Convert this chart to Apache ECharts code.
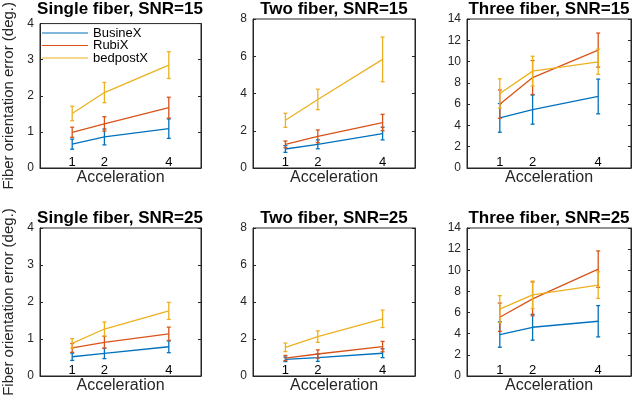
<!DOCTYPE html>
<html>
<head>
<meta charset="utf-8">
<script src="https://cdn.jsdelivr.net/npm/echarts@6/dist/echarts.min.js"></script>
<style>
html,body{margin:0;padding:0;background:#fff;}
#chart{width:642px;height:402px;}
</style>
</head>
<body>
<div id="chart"></div>
<script>
// ---- data ----
const acceleration = [1, 2, 4];
const accelTicks = [1, 2, 4];
const methods = ['BusineX', 'RubiX', 'bedpostX'];
const panelTitles = ['Single fiber, SNR=15', 'Two fiber, SNR=15', 'Three fiber, SNR=15',
                     'Single fiber, SNR=25', 'Two fiber, SNR=25', 'Three fiber, SNR=25'];
const yMaxes = [4, 8, 14, 4, 8, 14];
const yIntervals = [1, 2, 2, 1, 2, 2];

// means / errors, rows = [BusineX, RubiX, bedpostX], columns = acceleration 1, 2, 4
const single15Mean = [[0.66, 0.86, 1.09], [0.99, 1.22, 1.67], [1.51, 2.09, 2.85]];
const single15Err  = [[0.14, 0.22, 0.27], [0.14, 0.20, 0.29], [0.20, 0.28, 0.37]];
const two15Mean    = [[1.02, 1.27, 1.85], [1.27, 1.70, 2.44], [2.56, 3.68, 5.83]];
const two15Err     = [[0.18, 0.24, 0.34], [0.18, 0.34, 0.44], [0.38, 0.55, 1.20]];
const three15Mean  = [[4.71, 5.49, 6.72], [6.00, 8.50, 11.08], [7.00, 9.10, 9.98]];
const three15Err   = [[1.35, 1.37, 1.63], [1.33, 1.60, 1.60], [1.38, 1.40, 1.18]];
const single25Mean = [[0.52, 0.61, 0.79], [0.76, 0.91, 1.14], [0.88, 1.27, 1.76]];
const single25Err  = [[0.10, 0.14, 0.16], [0.12, 0.16, 0.18], [0.13, 0.19, 0.23]];
const two25Mean    = [[0.90, 0.99, 1.23], [0.97, 1.19, 1.59], [1.55, 2.13, 3.09]];
const two25Err     = [[0.12, 0.20, 0.24], [0.14, 0.22, 0.28], [0.23, 0.31, 0.47]];
const three25Mean  = [[3.92, 4.61, 5.18], [5.56, 7.30, 10.11], [6.32, 7.68, 8.60]];
const three25Err   = [[1.20, 1.22, 1.48], [1.34, 1.60, 1.72], [1.28, 1.30, 1.26]];

const panelMeans = [single15Mean, two15Mean, three15Mean, single25Mean, two25Mean, three25Mean];
const panelErrs  = [single15Err, two15Err, three15Err, single25Err, two25Err, three25Err];

// ---- style / layout ----
const colors = ['#0072BD', '#D95319', '#EDB120'];
const FONT = '"Liberation Sans", Arial, Helvetica, sans-serif';
const AX = '#262626';
const gridLefts = [39, 253, 467];
const gridWidths = [162, 162, 164];
const gridTops = [19, 228];
const gridHeights = [149, 148];

const grids = [], xAxes = [], yAxes = [], series = [], titles = [];
for (let p = 0; p < 6; p++) {
  const col = p % 3, row = Math.floor(p / 3);
  grids.push({left: gridLefts[col], top: gridTops[row], width: gridWidths[col], height: gridHeights[row],
    show: true, borderColor: AX, borderWidth: 1, backgroundColor: '#fff', containLabel: false});
  titles.push({text: panelTitles[p], left: gridLefts[col] + gridWidths[col] / 2, top: gridTops[row] - 18,
    textAlign: 'center', padding: 0,
    textStyle: {fontFamily: FONT, fontSize: 17, fontWeight: 'bold', color: '#000'}});
  xAxes.push({type: 'value', gridIndex: p, min: 0, max: 5, interval: 1,
    name: 'Acceleration', nameLocation: 'middle', nameGap: 2,
    nameTextStyle: {fontFamily: FONT, fontSize: 16, color: AX, verticalAlign: 'top'},
    axisLine: {show: true, lineStyle: {color: AX, width: 1}},
    axisTick: {show: false},
    splitLine: {show: false},
    axisLabel: {inside: true, customValues: accelTicks, margin: -1, fontFamily: FONT, fontSize: 13, color: '#000'}});
  const yBase = {type: 'value', gridIndex: p, min: 0, max: yMaxes[p], interval: yIntervals[p],
    splitLine: {show: false},
    axisLine: {show: true, onZero: false, lineStyle: {color: AX, width: 1}},
    axisTick: {show: true, inside: true, length: 3, lineStyle: {color: AX}}};
  const yLeft = Object.assign({}, yBase, {position: 'left',
    axisLabel: {margin: 6, fontFamily: FONT, fontSize: 12, color: AX}});
  if (col === 0) {
    yLeft.name = 'Fiber orientation error (deg.)';
    yLeft.nameLocation = 'middle';
    yLeft.nameGap = 24;
    yLeft.nameTextStyle = {fontFamily: FONT, fontSize: 15, color: AX};
  }
  yAxes.push(yLeft);
  yAxes.push(Object.assign({}, yBase, {position: 'right', axisLabel: {show: false}}));

  for (let m = 0; m < 3; m++) {
    const means = panelMeans[p][m], errs = panelErrs[p][m];
    series.push({type: 'line', name: methods[m], xAxisIndex: p, yAxisIndex: 2 * p,
      data: acceleration.map((a, i) => [a, means[i]]),
      symbol: 'none', showSymbol: false, silent: true, animation: false, z: 2 + m,
      lineStyle: {color: colors[m], width: 1.3}, itemStyle: {color: colors[m]}});
    series.push({type: 'custom', name: methods[m] + ' err', xAxisIndex: p, yAxisIndex: 2 * p,
      data: acceleration.map((a, i) => [a, means[i] - errs[i], means[i] + errs[i]]),
      encode: {x: 0, y: [1, 2]}, silent: true, animation: false, z: 2 + m,
      renderItem: (function (c) {
        return function (params, api) {
          const x = api.value(0);
          const lo = api.coord([x, api.value(1)]);
          const hi = api.coord([x, api.value(2)]);
          const hw = 2, st = {stroke: c, lineWidth: 1.3};
          return {type: 'group', children: [
            {type: 'line', shape: {x1: hi[0], y1: hi[1], x2: lo[0], y2: lo[1]}, style: st},
            {type: 'line', shape: {x1: hi[0] - hw, y1: hi[1], x2: hi[0] + hw, y2: hi[1]}, style: st},
            {type: 'line', shape: {x1: lo[0] - hw, y1: lo[1], x2: lo[0] + hw, y2: lo[1]}, style: st}
          ]};
        };
      })(colors[m])});
  }
}

const chart = echarts.init(document.getElementById('chart'), null, {renderer: 'canvas'});
chart.setOption({
  animation: false,
  backgroundColor: '#fff',
  title: titles,
  grid: grids,
  xAxis: xAxes,
  yAxis: yAxes,
  legend: {data: methods, orient: 'vertical', left: 42, top: 26.5, padding: 0,
    itemWidth: 46, itemHeight: 11, itemGap: -0.5,
    icon: 'path://M0,5 L46,5 L46,6.2 L0,6.2 Z',
    textStyle: {fontFamily: FONT, fontSize: 13, color: '#000', lineHeight: 11}, selectedMode: false},
  series: series
});
</script>
</body>
</html>
